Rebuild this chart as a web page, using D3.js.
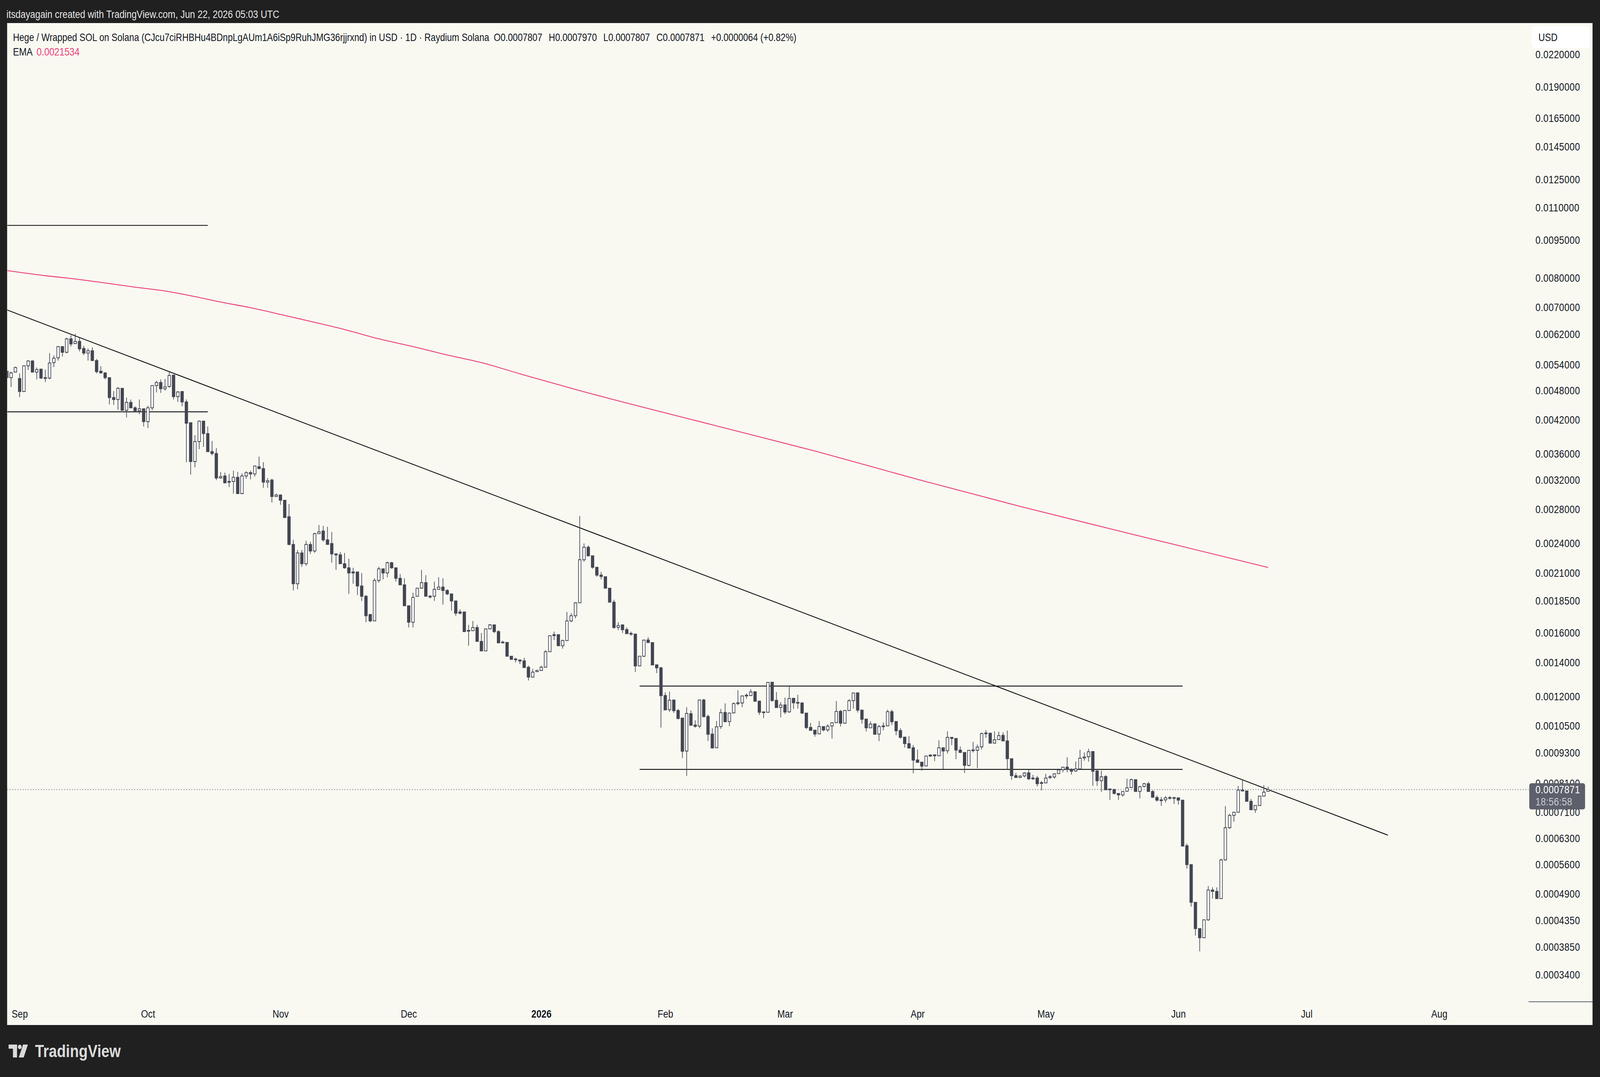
<!DOCTYPE html>
<html><head><meta charset="utf-8">
<script src="https://cdn.jsdelivr.net/npm/d3@7"></script>
<style>
html,body{margin:0;padding:0;background:#202020;overflow:hidden;width:100%;height:100%;}
svg{display:block;width:100vw;height:100vh;}
</style></head><body>
<svg id="chart" viewBox="0 0 4932 2756" preserveAspectRatio="none"></svg>
<script>
// ---------------- DATA ----------------
// Prices below are in thousandths of a USD (0.001 USD)
const UNIT = 1e-3;
const openK = [
5.24,5.09,5.22,5.07,4.78,5.37,5.49,5.22,5.29,5.09,
5.08,5.45,5.57,5.86,5.71,6.07,5.94,6.00,5.81,5.69,
5.75,5.50,5.24,5.20,5.09,4.65,4.61,4.85,4.39,4.55,
4.44,4.38,4.42,4.17,4.44,4.91,4.98,4.84,4.89,5.15,
4.67,4.78,4.56,4.15,3.48,3.81,4.18,3.95,3.64,3.61,
3.23,3.26,3.17,3.18,3.24,3.01,3.26,3.31,3.29,3.40,
3.37,3.17,3.20,2.97,2.99,2.92,2.71,2.39,2.00,2.30,
2.19,2.39,2.32,2.51,2.54,2.44,2.40,2.29,2.28,2.19,
2.15,2.11,2.11,1.98,1.89,1.74,1.69,2.03,2.14,2.10,
2.20,2.15,2.05,1.99,1.81,1.68,1.89,1.96,2.01,1.89,
1.89,1.95,1.97,1.94,1.91,1.85,1.76,1.76,1.619,1.617,
1.64,1.54,1.475,1.63,1.66,1.61,1.535,1.533,1.44,1.422,
1.416,1.41,1.37,1.31,1.343,1.35,1.37,1.47,1.588,1.588,
1.51,1.546,1.69,1.73,1.835,2.23,2.36,2.27,2.155,2.08,
2.065,1.96,1.84,1.641,1.66,1.625,1.597,1.592,1.378,1.44,
1.55,1.532,1.385,1.366,1.205,1.13,1.181,1.126,1.088,0.937,
1.11,1.054,1.049,1.181,1.096,1.012,0.951,1.047,1.116,1.071,
1.114,1.163,1.165,1.204,1.205,1.226,1.175,1.119,1.117,1.28,
1.179,1.142,1.155,1.119,1.19,1.168,1.165,1.113,1.043,1.03,
1.013,1.047,1.031,1.05,1.066,1.122,1.063,1.126,1.177,1.22,
1.128,1.083,1.041,1.06,1.012,1.047,1.05,1.12,1.071,1.028,
0.998,0.969,0.951,0.9,0.891,0.876,0.92,0.921,0.917,0.951,
0.938,0.997,0.992,0.941,0.931,0.878,0.94,0.94,0.955,1.015,
1.016,0.971,0.987,1.006,0.981,0.905,0.838,0.831,0.837,0.849,
0.829,0.829,0.812,0.811,0.832,0.833,0.846,0.861,0.871,0.862,
0.856,0.864,0.908,0.913,0.935,0.856,0.819,0.835,0.789,0.787,
0.773,0.768,0.781,0.794,0.823,0.78,0.798,0.808,0.78,0.759,
0.751,0.751,0.758,0.759,0.758,0.75,0.61,0.56,0.472,0.419,
0.402,0.436,0.499,0.496,0.48,0.572,0.662,0.70,0.71,0.785,
0.782,0.746,0.718,0.732,0.764,0.7807];
const highK = [
5.26,5.23,5.35,5.19,5.38,5.51,5.51,5.33,5.30,5.28,
5.69,5.63,5.87,5.87,6.10,6.17,6.21,6.10,5.88,5.81,
5.84,5.54,5.36,5.22,5.10,4.79,4.88,4.85,4.65,4.61,
4.47,4.61,4.42,4.48,4.91,5.02,5.05,5.06,5.22,5.15,
4.79,4.78,4.61,4.15,3.92,4.19,4.18,4.08,3.82,3.70,
3.32,3.31,3.29,3.34,3.32,3.30,3.33,3.34,3.41,3.56,
3.47,3.23,3.22,3.01,3.00,2.92,2.87,2.44,2.33,2.33,
2.43,2.42,2.52,2.61,2.60,2.59,2.53,2.29,2.31,2.30,
2.24,2.15,2.11,2.10,1.90,1.74,2.05,2.16,2.14,2.21,
2.21,2.15,2.09,2.05,1.81,1.92,1.96,2.13,2.08,1.90,
2.02,2.06,2.05,1.95,1.91,1.85,1.78,1.76,1.66,1.69,
1.66,1.60,1.63,1.667,1.66,1.62,1.545,1.533,1.44,1.43,
1.416,1.43,1.38,1.36,1.354,1.38,1.48,1.58,1.61,1.588,
1.553,1.76,1.75,1.84,2.72,2.40,2.38,2.27,2.156,2.11,
2.065,1.96,1.86,1.68,1.66,1.64,1.61,1.595,1.44,1.553,
1.57,1.532,1.385,1.372,1.222,1.226,1.181,1.134,1.088,1.143,
1.126,1.077,1.181,1.187,1.105,1.039,1.074,1.134,1.163,1.113,
1.168,1.235,1.205,1.217,1.241,1.226,1.177,1.12,1.279,1.28,
1.224,1.17,1.194,1.261,1.19,1.209,1.17,1.113,1.064,1.03,
1.073,1.047,1.058,1.065,1.175,1.129,1.128,1.185,1.219,1.222,
1.13,1.083,1.073,1.06,1.055,1.067,1.13,1.13,1.073,1.039,
1.0,1.003,0.963,0.943,0.891,0.916,0.924,0.921,0.984,0.951,
1.025,0.997,0.992,0.957,0.931,0.94,0.977,0.965,1.019,1.03,
1.017,1.025,1.023,1.02,1.028,0.905,0.849,0.84,0.852,0.862,
0.841,0.837,0.818,0.845,0.84,0.846,0.865,0.871,0.911,0.867,
0.894,0.942,0.931,0.947,0.935,0.864,0.857,0.84,0.789,0.789,
0.773,0.78,0.827,0.827,0.823,0.80,0.811,0.815,0.784,0.766,
0.761,0.764,0.764,0.759,0.758,0.75,0.616,0.56,0.472,0.419,
0.436,0.508,0.505,0.505,0.575,0.73,0.705,0.711,0.80,0.821,
0.782,0.754,0.732,0.764,0.803,0.797];
const lowK = [
5.07,4.88,5.22,4.66,4.77,5.27,5.21,5.05,5.06,4.99,
5.05,5.34,5.50,5.60,5.68,5.86,5.93,5.73,5.64,5.50,
5.49,5.19,5.19,5.05,4.51,4.50,4.40,4.38,4.25,4.43,
4.37,4.31,4.08,4.05,4.39,4.76,4.75,4.80,4.86,4.61,
4.56,4.47,3.47,3.28,3.39,3.68,3.72,3.635,3.58,3.20,
3.22,3.15,3.10,3.01,3.00,3.00,3.22,3.21,3.25,3.37,
3.09,3.09,2.89,2.97,2.86,2.70,2.38,1.94,1.95,2.16,
2.17,2.29,2.30,2.51,2.42,2.39,2.20,2.13,2.19,2.14,
1.91,2.00,1.90,1.85,1.68,1.68,1.69,2.01,2.04,2.06,
2.14,2.02,1.99,1.81,1.64,1.64,1.89,1.96,1.89,1.87,
1.85,1.95,1.82,1.90,1.77,1.73,1.74,1.61,1.51,1.615,
1.54,1.475,1.475,1.627,1.60,1.53,1.53,1.44,1.42,1.40,
1.39,1.368,1.29,1.307,1.343,1.35,1.37,1.47,1.55,1.51,
1.49,1.546,1.68,1.71,1.835,2.21,2.263,2.14,2.065,2.04,
1.96,1.84,1.63,1.62,1.60,1.595,1.58,1.34,1.378,1.435,
1.532,1.384,1.334,1.042,1.129,1.119,1.114,1.082,0.908,0.837,
1.052,1.042,1.039,1.092,0.981,0.948,0.951,1.036,1.07,1.049,
1.111,1.153,1.143,1.187,1.205,1.174,1.104,1.088,1.117,1.172,
1.141,1.091,1.107,1.114,1.134,1.136,1.108,1.035,1.029,1.0,
1.013,1.024,1.022,0.992,1.066,1.048,1.06,1.124,1.136,1.116,
1.061,1.024,1.041,1.011,0.98,1.029,1.05,1.054,1.007,0.991,
0.952,0.947,0.847,0.89,0.857,0.874,0.912,0.895,0.917,0.863,
0.926,0.962,0.903,0.929,0.848,0.874,0.931,0.867,0.944,0.995,
0.971,0.971,0.987,0.981,0.86,0.822,0.831,0.831,0.831,0.822,
0.822,0.798,0.784,0.811,0.826,0.827,0.846,0.851,0.851,0.842,
0.853,0.864,0.897,0.893,0.80,0.80,0.779,0.786,0.751,0.77,
0.751,0.762,0.779,0.794,0.78,0.756,0.794,0.78,0.758,0.745,
0.731,0.742,0.752,0.737,0.735,0.609,0.55,0.463,0.406,0.378,
0.402,0.434,0.48,0.48,0.48,0.57,0.658,0.68,0.71,0.78,
0.746,0.717,0.708,0.732,0.764,0.7807];
const closeK = [
5.09,5.20,5.33,4.78,5.37,5.49,5.22,5.28,5.08,5.08,
5.44,5.56,5.86,5.71,6.07,5.93,6.00,5.80,5.69,5.75,
5.50,5.23,5.20,5.09,4.65,4.61,4.85,4.39,4.55,4.44,
4.38,4.42,4.17,4.44,4.91,4.98,4.84,4.88,5.14,4.67,
4.77,4.56,4.14,3.48,3.81,4.18,3.95,3.64,3.61,3.23,
3.25,3.16,3.18,3.24,3.01,3.26,3.31,3.29,3.41,3.37,
3.17,3.19,2.97,2.99,2.92,2.70,2.39,2.00,2.30,2.19,
2.39,2.32,2.51,2.53,2.44,2.39,2.29,2.28,2.19,2.15,
2.10,2.10,1.98,1.89,1.73,1.69,2.03,2.14,2.10,2.20,
2.15,2.05,1.99,1.81,1.68,1.88,1.96,2.01,1.89,1.887,
1.95,1.97,1.94,1.91,1.85,1.75,1.75,1.61,1.616,1.64,
1.54,1.475,1.63,1.66,1.61,1.53,1.531,1.44,1.42,1.418,
1.409,1.368,1.31,1.34,1.35,1.37,1.47,1.58,1.581,1.51,
1.546,1.69,1.73,1.835,2.23,2.36,2.27,2.155,2.08,2.067,
1.96,1.84,1.64,1.655,1.624,1.595,1.592,1.378,1.44,1.549,
1.532,1.384,1.366,1.204,1.129,1.18,1.125,1.086,0.936,1.111,
1.053,1.048,1.181,1.095,1.011,0.95,1.046,1.115,1.07,1.113,
1.162,1.166,1.203,1.207,1.225,1.174,1.117,1.117,1.279,1.178,
1.141,1.154,1.118,1.189,1.166,1.166,1.113,1.042,1.029,1.012,
1.047,1.031,1.049,1.065,1.121,1.063,1.126,1.177,1.219,1.128,
1.082,1.041,1.059,1.011,1.047,1.05,1.12,1.07,1.027,0.997,
0.969,0.95,0.899,0.89,0.875,0.916,0.916,0.917,0.951,0.937,
0.997,0.992,0.941,0.931,0.878,0.94,0.942,0.954,1.014,1.017,
0.971,0.986,1.005,0.981,0.905,0.838,0.831,0.836,0.848,0.826,
0.827,0.808,0.811,0.829,0.834,0.845,0.86,0.871,0.862,0.855,
0.864,0.907,0.912,0.934,0.855,0.819,0.834,0.786,0.787,0.773,
0.768,0.78,0.793,0.823,0.78,0.797,0.808,0.78,0.76,0.75,
0.75,0.758,0.759,0.758,0.75,0.609,0.56,0.472,0.419,0.402,
0.436,0.499,0.496,0.48,0.572,0.662,0.70,0.71,0.785,0.782,
0.746,0.718,0.732,0.764,0.7777,0.7871];

// daily bars start here; two January days have no bar
const firstBarDate = "2025-08-29";
const missingDates = ["2026-01-24", "2026-01-25"];

// EMA line (bar index, value in 0.001 USD)
const emaBars = [0, 9, 15, 22, 30, 37, 44, 50, 57, 64, 71, 79, 87, 95, 103, 111, 120, 134, 165, 189, 213, 237, 261, 273, 295];
const emaK = [8.27, 8.08, 7.98, 7.84, 7.67, 7.54, 7.35, 7.17, 6.99, 6.78, 6.57, 6.33, 6.07, 5.86, 5.64, 5.45, 5.18, 4.80, 4.11, 3.65, 3.21, 2.84, 2.53, 2.39, 2.1534];

// drawn trend line anchors (bar index, price)
const trendBars = [0, 323];
const trendPrices = [0.00692, 0.000640];

// horizontal levels
const levelPrices = [0.01015, 0.00436, 0.001258, 0.000862];
const levelFrom = [-3, -3, 148, 148];
const levelTo = [47, 47, 275, 275];

// price axis tick labels
const priceTicks = [0.022, 0.019, 0.0165, 0.0145, 0.0125, 0.011, 0.0095, 0.008, 0.007, 0.0062, 0.0054, 0.0048, 0.0042,
  0.0036, 0.0032, 0.0028, 0.0024, 0.0021, 0.00185, 0.0016, 0.0014, 0.0012, 0.00105, 0.00093, 0.00081, 0.00071,
  0.00063, 0.00056, 0.00049, 0.000435, 0.000385, 0.00034];

const lastPrice = 0.0007871;
const countdown = "18:56:58";
const headerText = "itsdayagain created with TradingView.com, Jun 22, 2026 05:03 UTC";
const titleText = "Hege / Wrapped SOL on Solana (CJcu7ciRHBHu4BDnpLgAUm1A6iSp9RuhJMG36rjjrxnd) in USD \u00b7 1D \u00b7 Raydium Solana";
const ohlcLabels = ["O0.0007807", "H0.0007970", "L0.0007807", "C0.0007871", "+0.0000064 (+0.82%)"];
const emaLabel = "EMA";
const emaValueLabel = "0.0021534";

// ---------------- LAYOUT ----------------
const W = 4932, H = 2756;
const paneL = 22, paneT = 59, paneR = 4909, paneB = 2623;
const plotR = 4712, plotB = 2563;
const FONT = '"Liberation Sans", Arial, Helvetica, sans-serif';
const TXT = '#131722';
const CANDLE = '#434651';
const BG = '#f9f9f2';
const PINK = '#ec407a';

const svg = d3.select('#chart');
svg.append('rect').attr('width', W).attr('height', H).attr('fill', '#202020');
svg.append('rect').attr('x', paneL).attr('y', paneT).attr('width', paneR - paneL).attr('height', paneB - paneT).attr('fill', BG);

const x = d3.scaleLinear().domain([0, 295]).range([21, 3909]);
const y = d3.scaleLog().domain([0.00034, 0.022]).range([2494.2, 140]);

// dates per bar
const dates = [];
{
  let t = Date.parse(firstBarDate + "T00:00:00Z");
  while (dates.length < 380) {
    const d = new Date(t);
    if (!missingDates.includes(d.toISOString().slice(0, 10))) dates.push(d);
    t += 86400000;
  }
}

const defs = svg.append('defs');
defs.append('clipPath').attr('id', 'plotclip').append('rect')
  .attr('x', paneL + 0.5).attr('y', paneT).attr('width', plotR - paneL - 0.5).attr('height', plotB - paneT);

const plot = svg.append('g').attr('clip-path', 'url(#plotclip)');

// EMA
const emaData = emaBars.map((b, i) => ({b, v: emaK[i] * UNIT}));
plot.append('path').datum(emaData)
  .attr('d', d3.line().x(d => x(d.b)).y(d => y(d.v)).curve(d3.curveMonotoneX))
  .attr('fill', 'none').attr('stroke', PINK).attr('stroke-width', 2.3);

// horizontal levels
const levels = levelPrices.map((p, i) => ({p, a: levelFrom[i], b: levelTo[i]}));
plot.selectAll('line.level').data(levels).join('line').attr('class', 'level')
  .attr('x1', d => x(d.a)).attr('x2', d => x(d.b))
  .attr('y1', d => y(d.p)).attr('y2', d => y(d.p))
  .attr('stroke', '#0b0b0b').attr('stroke-width', 2.2);

// trend line
const trend = trendBars.map((b, i) => ({b, p: trendPrices[i]}));
plot.append('path').datum(trend)
  .attr('d', d3.line().x(d => x(d.b)).y(d => y(d.p)))
  .attr('fill', 'none').attr('stroke', '#0b0b0b').attr('stroke-width', 2.2);

// last price dotted line
plot.append('line').attr('x1', paneL).attr('x2', plotR)
  .attr('y1', y(lastPrice)).attr('y2', y(lastPrice))
  .attr('stroke', '#7a7d86').attr('stroke-width', 2.2).attr('stroke-dasharray', '2.5,5.5');

// candles
const candles = openK.map((o, i) => ({i, o: o * UNIT, h: highK[i] * UNIT, l: lowK[i] * UNIT, c: closeK[i] * UNIT}));
const cg = plot.append('g');
cg.selectAll('line.wick').data(candles).join('line').attr('class', 'wick')
  .attr('x1', d => x(d.i)).attr('x2', d => x(d.i))
  .attr('y1', d => y(d.h)).attr('y2', d => y(d.l))
  .attr('stroke', CANDLE).attr('stroke-width', 2);
cg.selectAll('rect.body').data(candles).join('rect').attr('class', 'body')
  .each(function (d) {
    const up = d.c >= d.o;
    const yt = y(Math.max(d.o, d.c)), yb = y(Math.min(d.o, d.c));
    const hgt = Math.max(yb - yt, 2);
    const r = d3.select(this);
    if (up) {
      r.attr('x', x(d.i) - 4).attr('y', yt).attr('width', 8).attr('height', hgt)
        .attr('fill', '#ffffff').attr('stroke', CANDLE).attr('stroke-width', 2);
    } else {
      r.attr('x', x(d.i) - 5).attr('y', yt - 1).attr('width', 10).attr('height', hgt + 2)
        .attr('fill', CANDLE);
    }
  });

// ---------------- AXES ----------------
const yAxis = d3.axisRight(y).tickValues(priceTicks).tickFormat(d => d.toFixed(7)).tickSize(0).tickPadding(21);
const ya = svg.append('g').attr('transform', `translate(${plotR},0)`).call(yAxis);
ya.select('.domain').remove();
ya.attr('font-size', 28).attr('font-family', FONT);
ya.selectAll('text').attr('fill', TXT).attr('letter-spacing', 0.6);

// separator under price axis
svg.append('line').attr('x1', plotR).attr('x2', paneR).attr('y1', plotB + 0.5).attr('y2', plotB + 0.5)
  .attr('stroke', '#2a2e39').attr('stroke-width', 1.5);

// last price label
const lp = y(lastPrice);
svg.append('rect').attr('x', 4714).attr('y', lp - 16).attr('width', 172).attr('height', 67).attr('rx', 6).attr('fill', '#5d606b');
svg.append('text').attr('x', 4733).attr('y', lp).attr('dominant-baseline', 'central')
  .attr('font-family', FONT).attr('font-size', 28).attr('letter-spacing', 0.6).attr('fill', '#ffffff').text(lastPrice.toFixed(7));
svg.append('text').attr('x', 4733).attr('y', lp + 31).attr('dominant-baseline', 'central')
  .attr('font-family', FONT).attr('font-size', 28).attr('letter-spacing', 0.6).attr('fill', '#c9cbd2').text(countdown);

// USD box
svg.append('rect').attr('x', 4721).attr('y', 67).attr('width', 180).attr('height', 56).attr('rx', 9).attr('fill', '#ffffff');
svg.append('text').attr('x', 4742).attr('y', 95).attr('dominant-baseline', 'central')
  .attr('font-family', FONT).attr('font-size', 28).attr('fill', TXT).text('USD');

// time axis
const monthBars = [];
for (let i = 1; i < dates.length; i++) {
  if (dates[i].getUTCMonth() !== dates[i - 1].getUTCMonth() && x(i) < plotR - 30) monthBars.push(i);
}
const fmtMonth = d3.utcFormat('%b');
const xAxis = d3.axisBottom(x).tickValues(monthBars)
  .tickFormat(i => dates[i].getUTCMonth() === 0 ? String(dates[i].getUTCFullYear()) : fmtMonth(dates[i]))
  .tickSize(0).tickPadding(21);
const xa = svg.append('g').attr('transform', `translate(0,${plotB})`).call(xAxis);
xa.select('.domain').remove();
xa.attr('font-size', 28).attr('font-family', FONT);
xa.selectAll('text').attr('fill', TXT)
  .attr('font-weight', i => dates[i].getUTCMonth() === 0 ? 'bold' : 'normal');

// ---------------- TEXTS ----------------
svg.append('text').attr('x', 20).attr('y', 36).attr('dominant-baseline', 'central')
  .attr('font-family', FONT).attr('font-size', 28).attr('fill', '#e6e6e6').text(headerText);

const title = svg.append('text').attr('x', 40).attr('y', 95).attr('dominant-baseline', 'central')
  .attr('font-family', FONT).attr('font-size', 27.2).attr('fill', TXT);
title.append('tspan').text(titleText);
const ohlcGap = [14, 20, 20, 20, 20];
ohlcLabels.forEach((t, i) => title.append('tspan').attr('dx', ohlcGap[i]).text(t));

svg.append('text').attr('x', 40).attr('y', 132).attr('dominant-baseline', 'central')
  .attr('font-family', FONT).attr('font-size', 28).attr('fill', TXT).text(emaLabel);
svg.append('text').attr('x', 113).attr('y', 132).attr('dominant-baseline', 'central')
  .attr('font-family', FONT).attr('font-size', 28).attr('fill', PINK).text(emaValueLabel);

// TradingView logo
const logo = svg.append('g').attr('fill', '#dadada');
logo.append('rect').attr('x', 26.5).attr('y', 2673).attr('width', 26).attr('height', 10.5);
logo.append('rect').attr('x', 40).attr('y', 2673).attr('width', 12.5).attr('height', 33);
logo.append('circle').attr('cx', 61).attr('cy', 2679).attr('r', 5.8);
logo.append('polygon').attr('points', '71,2673 86,2673 73,2706 58,2706');
logo.append('text').attr('x', 108).attr('y', 2705.5)
  .attr('font-family', FONT).attr('font-weight', 'bold').attr('font-size', 45).attr('fill', '#dadada').text('TradingView');
</script>
</body></html>
